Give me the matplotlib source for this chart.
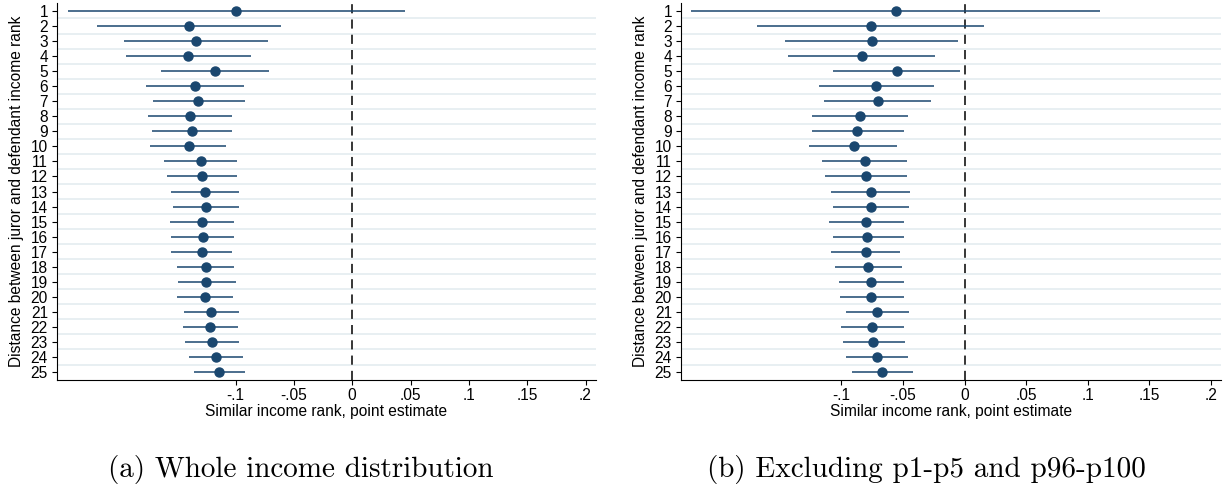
import matplotlib
matplotlib.use('Agg')
import matplotlib.pyplot as plt

NAVY = '#1a476f'
GRID = '#e4ecf0'

ranks = list(range(1, 26))

# Whole income distribution
est_a = [-0.100, -0.140, -0.134, -0.141, -0.118, -0.135, -0.132, -0.139, -0.137, -0.140,
         -0.130, -0.129, -0.126, -0.125, -0.129, -0.128, -0.129, -0.125, -0.125, -0.126,
         -0.121, -0.122, -0.120, -0.117, -0.114]
lo_a = [-0.244, -0.219, -0.196, -0.194, -0.164, -0.177, -0.171, -0.175, -0.172, -0.173,
        -0.161, -0.159, -0.155, -0.154, -0.156, -0.155, -0.155, -0.150, -0.149, -0.150,
        -0.144, -0.145, -0.143, -0.140, -0.136]
hi_a = [0.045, -0.061, -0.072, -0.087, -0.071, -0.093, -0.092, -0.103, -0.103, -0.108,
        -0.099, -0.099, -0.097, -0.097, -0.101, -0.101, -0.103, -0.101, -0.100, -0.102,
        -0.097, -0.098, -0.097, -0.094, -0.092]

# Excluding p1-p5 and p96-p100
est_b = [-0.056, -0.076, -0.075, -0.083, -0.055, -0.072, -0.070, -0.085, -0.087, -0.090,
         -0.081, -0.080, -0.076, -0.076, -0.080, -0.079, -0.080, -0.078, -0.076, -0.076,
         -0.071, -0.075, -0.074, -0.071, -0.067]
lo_b = [-0.222, -0.168, -0.146, -0.143, -0.107, -0.118, -0.114, -0.124, -0.124, -0.126,
        -0.116, -0.113, -0.108, -0.107, -0.110, -0.107, -0.108, -0.105, -0.102, -0.101,
        -0.096, -0.100, -0.099, -0.096, -0.091]
hi_b = [0.110, 0.016, -0.005, -0.024, -0.004, -0.025, -0.027, -0.046, -0.049, -0.055,
        -0.047, -0.047, -0.044, -0.045, -0.049, -0.049, -0.052, -0.051, -0.049, -0.049,
        -0.045, -0.049, -0.048, -0.046, -0.042]

xtick_vals = [-0.1, -0.05, 0, 0.05, 0.1, 0.15, 0.2]
xtick_labels = ['-.1', '-.05', '0', '.05', '.1', '.15', '.2']

plt.rcParams['font.family'] = ['Liberation Sans', 'DejaVu Sans']


def coef_panel(ax, est, lo, hi, xlim):
    # light separators between rows
    for k in range(len(ranks) - 1):
        ax.axhline(ranks[k] + 0.5, color=GRID, lw=1.2, zorder=0)
    ax.axvline(0, color='black', lw=1.1, linestyle=(0, (6, 4)), zorder=1)
    ax.hlines(ranks, lo, hi, color=NAVY, lw=1.1, zorder=2)
    ax.plot(est, ranks, 'o', color=NAVY, markersize=6.5, zorder=3)
    ax.set_xlim(*xlim)
    ax.set_ylim(25.53, 0.47)
    ax.set_yticks(ranks)
    ax.set_yticklabels([str(r) for r in ranks])
    ax.set_xticks(xtick_vals)
    ax.set_xticklabels(xtick_labels)
    ax.tick_params(axis='both', labelsize=11.2, length=3.5, width=0.8, color='black')
    ax.tick_params(axis='y', pad=3)
    ax.tick_params(axis='x', pad=2)
    for side in ['top', 'right']:
        ax.spines[side].set_visible(False)
    for side in ['left', 'bottom']:
        ax.spines[side].set_linewidth(0.8)
    ax.set_xlabel('Similar income rank, point estimate', fontsize=11.2, labelpad=1)
    ax.set_ylabel('Distance between juror and defendant income rank', fontsize=11.2, labelpad=5)


fig = plt.figure(figsize=(12.25, 4.93), dpi=100)
ax1 = fig.add_axes([57 / 1225, 1 - 380 / 493, 539 / 1225, 377 / 493])
ax2 = fig.add_axes([681 / 1225, 1 - 380 / 493, 540 / 1225, 377 / 493])

coef_panel(ax1, est_a, lo_a, hi_a, (-0.253, 0.209))
coef_panel(ax2, est_b, lo_b, hi_b, (-0.230, 0.208))

fig.text(108 / 1225, 1 - 470 / 493, '(a) Whole income distribution',
         family='cmr10', fontsize=21, ha='left', va='center')
fig.text(707 / 1225, 1 - 470 / 493, '(b) Excluding p1-p5 and p96-p100',
         family='cmr10', fontsize=21, ha='left', va='center')

fig.savefig('out.png', dpi=100)
